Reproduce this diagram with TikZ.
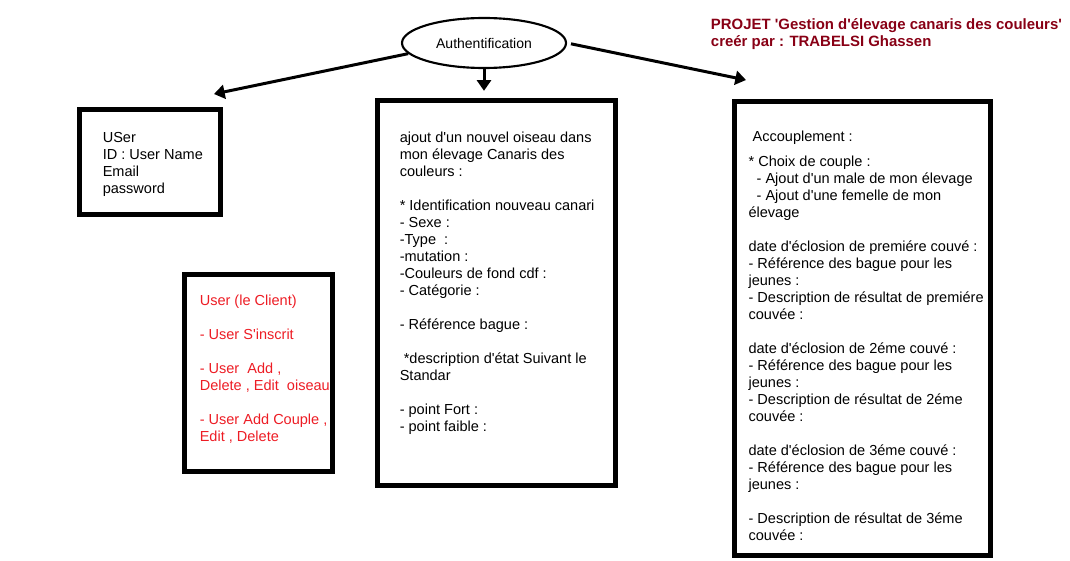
\documentclass[tikz,border=0pt]{standalone}
\usepackage{fontspec}
\setmainfont{Liberation Sans}[Ligatures=TeXOff]
\usetikzlibrary{arrows.meta,shapes.geometric}
\definecolor{clientred}{RGB}{237,28,36}
\definecolor{titlered}{RGB}{136,0,21}
\begin{document}
\begin{tikzpicture}[x=0.75pt,y=-0.75pt,
		box/.style={draw,line width=3.75pt,inner sep=0pt},
		txt/.style={anchor=north west,align=left,inner sep=0pt,font=\fontsize{10.9pt}{12.75pt}\selectfont},
		arr/.style={line width=2.25pt,-{Triangle[length=8pt,width=10.5pt]}}]
		\useasboundingbox (0,0) rectangle (1070,560);
		\node[draw,ellipse,line width=1.6pt,minimum width=123pt,minimum height=37.5pt,inner sep=0pt,font=\fontsize{10.5pt}{12pt}\selectfont] (auth) at (484,43) {Authentification};
		\node[box,minimum width=105.75pt,minimum height=78.75pt] (user) at (150,162) {};
		\node[box,minimum width=111pt,minimum height=147.75pt] (client) at (258.5,373) {};
		\node[box,minimum width=178.5pt,minimum height=289.125pt] (ajout) at (496.5,292.75) {};
		\node[box,minimum width=191.625pt,minimum height=340.5pt] (accoupl) at (862.25,328.5) {};
		\node[txt] (usertxt) at (102.5,132) {USer\\ID : User Name\\Email\\password};
		\node[txt,text=clientred] (clienttxt) at (199.5,294.5) {User (le Client)\\[12.75pt]- User S'inscrit\\[12.75pt]- User\ \ Add ,\\Delete , Edit\ \ oiseau\\[12.75pt]- User Add Couple ,\\Edit , Delete};
		\node[txt] (ajouttxt) at (399.5,132) {ajout d'un nouvel oiseau dans\\mon élevage Canaris des\\couleurs :\\[12.75pt]* Identification nouveau canari\\- Sexe :\\-Type\ \ :\\-mutation :\\-Couleurs de fond cdf :\\- Catégorie :\\[12.75pt]- Référence bague :\\[12.75pt]\ *description d'état Suivant le\\Standar\\[12.75pt]- point Fort :\\- point faible :};
		\node[txt] (accoupltxt) at (748.3,130.2) {\ Accouplement :\\[6pt]* Choix de couple :\\\ \ - Ajout d'un male de mon élevage\\\ \ - Ajout d'une femelle de mon\\élevage\\[12.75pt]date d'éclosion de premiére couvé :\\- Référence des bague pour les\\jeunes :\\- Description de résultat de premiére\\couvée :\\[12.75pt]date d'éclosion de 2éme couvé :\\- Référence des bague pour les\\jeunes :\\- Description de résultat de 2éme\\couvée :\\[12.75pt]date d'éclosion de 3éme couvé :\\- Référence des bague pour les\\jeunes :\\[12.75pt]- Description de résultat de 3éme\\couvée :};
		\node[txt,text=titlered,font=\fontsize{11.2pt}{12.5pt}\selectfont\bfseries] (title) at (710.7,18.5) {PROJET 'Gestion d'élevage canaris des couleurs'\\creér par : TRABELSI Ghassen};
		% arrows
		\coordinate (tipL) at (214,94);
		\coordinate (tipR) at (746,80);
		\draw[arr] (auth.188) -- (tipL);
		\draw[arr,shorten >=5pt] (auth.south) -- (auth.south |- ajout.north);
		\draw[arr,shorten <=3pt] (auth.east) -- (tipR);
	\end{tikzpicture}
\end{document}
